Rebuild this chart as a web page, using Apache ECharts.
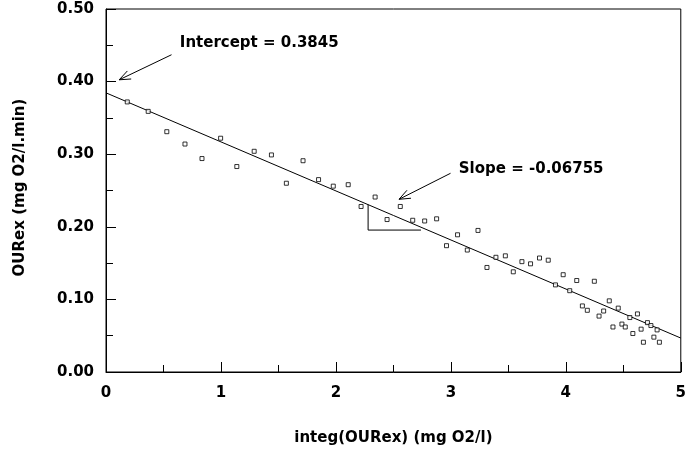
<!DOCTYPE html>
<html><head><meta charset="utf-8">
<script src="https://cdn.jsdelivr.net/npm/echarts@6/dist/echarts.min.js"></script>
<style>html,body{margin:0;padding:0;background:#fff}#c{width:689px;height:455px}</style>
</head><body><div id="c"></div>
<script>
// Observed points: integ(OURex) (mg O2/l) and OURex (mg O2/l.min)
var xValues = [0.185,0.367,0.529,0.687,0.835,0.997,1.138,1.289,1.439,1.569,1.714,1.849,1.977,2.107,2.219,2.341,2.445,2.560,2.668,2.772,2.876,2.962,3.058,3.143,3.236,3.314,3.392,3.474,3.543,3.618,3.693,3.771,3.847,3.910,3.977,4.034,4.095,4.144,4.187,4.248,4.289,4.329,4.378,4.410,4.456,4.488,4.517,4.557,4.583,4.623,4.655,4.675,4.710,4.740,4.766,4.794,4.814];
var yValues = [0.372,0.359,0.331,0.314,0.294,0.322,0.283,0.304,0.299,0.260,0.291,0.265,0.256,0.258,0.228,0.241,0.210,0.228,0.209,0.208,0.211,0.174,0.189,0.168,0.195,0.144,0.158,0.160,0.138,0.152,0.149,0.157,0.154,0.120,0.134,0.112,0.126,0.091,0.085,0.125,0.077,0.084,0.098,0.062,0.088,0.066,0.062,0.075,0.053,0.080,0.059,0.041,0.068,0.064,0.048,0.058,0.041];
var intercept = 0.3845;
var slope = -0.06755;
var fitX = [0, 5];
var xTicks = [0,1,2,3,4,5];
var yTicks = [0.00,0.10,0.20,0.30,0.40,0.50];
// slope triangle (data coords)
var triX = [2.28, 2.28, 2.74];
var triY = [0.2305, 0.1955, 0.1955];
// annotations: [tailX, tailY, tipX, tipY], text anchor
var interceptArrow = [0.57, 0.437, 0.115, 0.4025];
var interceptText = [0.642, 0.4535];
var slopeArrow = [2.997, 0.2737, 2.549, 0.2379];
var slopeText = [3.069, 0.2797];

var pts = xValues.map(function(x,i){return [x, yValues[i]];});
var fit = fitX.map(function(x){return [x, intercept + slope*x];});
var tri = triX.map(function(x,i){return [x, triY[i]];});
var FONT = 'DejaVu Sans';
var chart = echarts.init(document.getElementById('c'));
chart.setOption({
  animation:false,
  backgroundColor:'#fff',
  grid:{left:106, top:9, width:577, height:363, show:true, borderColor:'#000', borderWidth:1},
  xAxis:{type:'value', min:0, max:5, interval:1,
    name:'integ(OURex) (mg O2/l)', nameLocation:'middle', nameGap:59,
    nameTextStyle:{fontFamily:FONT, fontWeight:'bold', fontSize:15, color:'#000'},
    axisLine:{lineStyle:{color:'#000', width:1}},
    axisTick:{inside:true, length:10, lineStyle:{color:'#000'}},
    minorTick:{show:true, splitNumber:2, length:7, lineStyle:{color:'#000'}},
    splitLine:{show:false},
    axisLabel:{fontFamily:FONT, fontWeight:'bold', fontSize:15, color:'#000', margin:14,
      formatter:function(v){return xTicks.indexOf(v)>=0 ? String(v) : '';}}
  },
  yAxis:{type:'value', min:0, max:0.5, interval:0.1,
    name:'OURex (mg O2/l.min)', nameLocation:'middle', nameGap:78,
    nameTextStyle:{fontFamily:FONT, fontWeight:'bold', fontSize:15, color:'#000', padding:[0,0,0,6]},
    axisLine:{show:true, lineStyle:{color:'#000', width:1}},
    axisTick:{show:true, inside:true, length:10, lineStyle:{color:'#000'}},
    minorTick:{show:true, splitNumber:2, length:7, lineStyle:{color:'#000'}},
    splitLine:{show:false},
    axisLabel:{fontFamily:FONT, fontWeight:'bold', fontSize:15, color:'#000', margin:12,
      formatter:function(v){return v.toFixed(2);}}
  },
  series:[
    {type:'line', data:fit, symbol:'none', lineStyle:{color:'#000', width:1}, z:2},
    {type:'line', data:tri, symbol:'none', lineStyle:{color:'#000', width:1}, z:2},
    {type:'scatter', data:pts, symbol:'rect', symbolSize:4,
      itemStyle:{color:'#fff', borderColor:'#000', borderWidth:1}, z:3}
  ]
});

function arrowGraphics(a){
  var tail = chart.convertToPixel({gridIndex:0}, [a[0], a[1]]);
  var tip = chart.convertToPixel({gridIndex:0}, [a[2], a[3]]);
  var ang = Math.atan2(tail[1]-tip[1], tail[0]-tip[0]);
  var L = 12, s = 0.38;
  var h1 = [tip[0]+L*Math.cos(ang+s), tip[1]+L*Math.sin(ang+s)];
  var h2 = [tip[0]+L*Math.cos(ang-s), tip[1]+L*Math.sin(ang-s)];
  return [
    {type:'line', shape:{x1:tail[0],y1:tail[1],x2:tip[0],y2:tip[1]}, style:{stroke:'#000', lineWidth:1}},
    {type:'polyline', shape:{points:[h1, tip, h2]}, style:{stroke:'#000', lineWidth:1, fill:null}}
  ];
}
function textGraphic(p, txt){
  var q = chart.convertToPixel({gridIndex:0}, p);
  return {type:'text', x:q[0], y:q[1], style:{text:txt, fill:'#000', font:'bold 15px "'+FONT+'"', verticalAlign:'middle', align:'left'}};
}
var g = [].concat(arrowGraphics(interceptArrow), arrowGraphics(slopeArrow),
  [textGraphic(interceptText, 'Intercept = ' + intercept), textGraphic(slopeText, 'Slope = ' + slope)]);
chart.setOption({graphic:g});
</script></body></html>
